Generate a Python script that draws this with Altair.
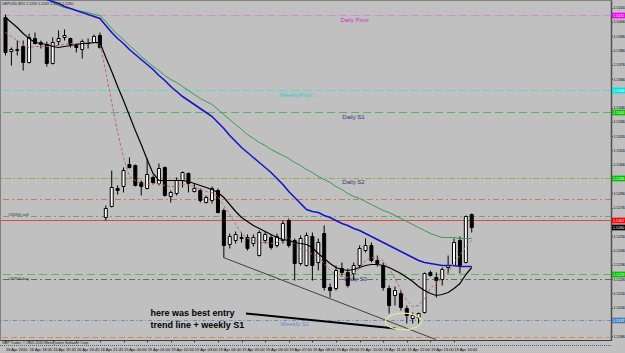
import altair as alt
import pandas as pd

# ---------------- data ----------------
opens = [1.54091,1.53853,1.53860,1.53888,1.53776,1.53944,1.53902,1.53902,1.53769,1.53923,
         1.53951,1.53944,1.53895,1.53867,1.53909,1.53916,1.53965,1.52691,1.52768,1.52894,
         1.52908,1.53062,1.53055,1.52936,1.52894,1.52971,1.52929,1.53041,1.52838,1.52859,
         1.52950,1.52999,1.52873,1.52880,1.52796,1.52810,1.52880,1.52740,1.52502,1.52530,
         1.52551,1.52551,1.52509,1.52425,1.52530,1.52551,1.52495,1.52530,1.52670,1.52530,
         1.52369,1.52355,1.52558,1.52376,1.52579,1.52201,1.52194,1.52334,1.52306,1.52299,
         1.52355,1.52460,1.52495,1.52390,1.52355,1.52194,1.52145,1.52159,1.52054,1.51984,
         1.51991,1.52026,1.52306,1.52271,1.52257,1.52341,1.52355,1.52530,1.52376,1.52712]
highs = [1.54112,1.53881,1.53930,1.53930,1.53979,1.53986,1.53930,1.53923,1.53951,1.54000,
         1.54007,1.53951,1.53909,1.53937,1.53944,1.53972,1.53986,1.52775,1.53020,1.52915,
         1.53041,1.53111,1.53062,1.52950,1.53104,1.52985,1.53069,1.53048,1.52880,1.52971,
         1.53013,1.53006,1.52929,1.52894,1.52845,1.52908,1.52894,1.52754,1.52579,1.52593,
         1.52586,1.52572,1.52572,1.52600,1.52593,1.52572,1.52579,1.52670,1.52684,1.52544,
         1.52565,1.52586,1.52586,1.52544,1.52635,1.52229,1.52355,1.52376,1.52334,1.52376,
         1.52495,1.52544,1.52516,1.52425,1.52376,1.52215,1.52208,1.52180,1.52075,1.52026,
         1.52026,1.52306,1.52320,1.52306,1.52341,1.52425,1.52544,1.52558,1.52705,1.52719]
lows = [1.53825,1.53755,1.53825,1.53720,1.53769,1.53902,1.53874,1.53748,1.53762,1.53895,
        1.53930,1.53881,1.53846,1.53804,1.53874,1.53909,1.53874,1.52670,1.52761,1.52852,
        1.52866,1.53034,1.52908,1.52845,1.52887,1.52922,1.52915,1.52838,1.52796,1.52845,
        1.52901,1.52866,1.52866,1.52796,1.52789,1.52789,1.52719,1.52411,1.52474,1.52509,
        1.52516,1.52460,1.52488,1.52418,1.52509,1.52467,1.52481,1.52509,1.52481,1.52250,
        1.52355,1.52348,1.52250,1.52320,1.52180,1.52131,1.52180,1.52285,1.52201,1.52250,
        1.52341,1.52446,1.52376,1.52348,1.52180,1.52019,1.52075,1.52040,1.51949,1.51949,
        1.51949,1.52019,1.52278,1.52131,1.52215,1.52299,1.52348,1.52299,1.52369,1.52586]
closes = [1.53846,1.53867,1.53867,1.53776,1.53951,1.53909,1.53916,1.53769,1.53916,1.53944,
          1.53965,1.53902,1.53881,1.53923,1.53916,1.53958,1.53881,1.52754,1.52901,1.52880,
          1.53020,1.53041,1.52915,1.52908,1.52992,1.52936,1.53034,1.52845,1.52866,1.52950,
          1.53006,1.52929,1.52894,1.52810,1.52831,1.52894,1.52726,1.52495,1.52558,1.52572,
          1.52544,1.52474,1.52551,1.52586,1.52572,1.52481,1.52558,1.52649,1.52495,1.52369,
          1.52544,1.52565,1.52355,1.52516,1.52201,1.52180,1.52320,1.52306,1.52215,1.52355,
          1.52474,1.52495,1.52390,1.52369,1.52201,1.52075,1.52180,1.52061,1.52005,1.52005,
          1.52019,1.52299,1.52285,1.52250,1.52327,1.52355,1.52516,1.52355,1.52698,1.52621]

ma_black = [1.54091,1.54056,1.54021,1.53979,1.53944,1.53916,1.53909,1.53902,1.53888,1.53881,
            1.53888,1.53895,1.53902,1.53909,1.53909,1.53916,1.53916,1.53811,1.53713,1.53608,
            1.53510,1.53405,1.53300,1.53202,1.53097,1.52999,1.52950,1.52950,1.52950,1.52950,
            1.52950,1.52943,1.52929,1.52915,1.52901,1.52887,1.52866,1.52831,1.52782,1.52733,
            1.52691,1.52663,1.52635,1.52614,1.52593,1.52572,1.52551,1.52537,1.52530,1.52516,
            1.52509,1.52502,1.52481,1.52439,1.52404,1.52369,1.52341,1.52327,1.52320,1.52327,
            1.52341,1.52355,1.52362,1.52362,1.52355,1.52341,1.52320,1.52299,1.52271,1.52243,
            1.52208,1.52180,1.52159,1.52145,1.52152,1.52166,1.52194,1.52229,1.52292,1.52341]
ma_dash = [1.53986,1.53958,1.53930,1.53902,1.53881,1.53888,1.53888,1.53888,1.53895,1.53895,
           1.53902,1.53909,1.53909,1.53909,1.53916,1.53916,1.53902,1.53713,1.53496,1.53286,
           1.53111,1.52978,1.52950,1.52929,1.52922,1.52929,1.52929,1.52915,1.52908,1.52908,
           1.52922,1.52922,1.52908,1.52887,1.52873,1.52866,1.52838,1.52775,1.52712,1.52642,
           1.52579,1.52544,1.52530,1.52516,1.52516,1.52509,1.52516,1.52544,1.52551,1.52509,
           1.52474,1.52460,1.52432,1.52418,1.52369,1.52320,1.52285,1.52278,1.52271,1.52292,
           1.52334,1.52390,1.52411,1.52411,1.52390,1.52334,1.52264,1.52180,1.52110,1.52068,
           1.52075,1.52124,1.52194,1.52229,1.52264,1.52306,1.52376,1.52425,1.52488,1.52530]
slow_start = 6
ma_blue = [1.54238,1.54217,1.54203,1.54189,1.54168,1.54154,1.54140,1.54126,1.54112,1.54098,
           1.54084,1.54035,1.53986,1.53944,1.53909,1.53867,1.53832,1.53797,1.53762,1.53727,
           1.53685,1.53650,1.53608,1.53573,1.53538,1.53510,1.53482,1.53454,1.53426,1.53398,
           1.53356,1.53314,1.53265,1.53223,1.53181,1.53146,1.53111,1.53076,1.53041,1.53006,
           1.52964,1.52922,1.52873,1.52831,1.52789,1.52747,1.52733,1.52726,1.52705,1.52691,
           1.52670,1.52649,1.52635,1.52614,1.52600,1.52579,1.52558,1.52537,1.52516,1.52495,
           1.52474,1.52453,1.52432,1.52411,1.52390,1.52376,1.52369,1.52362,1.52355,1.52355,
           1.52355,1.52348,1.52348,1.52348]
ma_green = [1.54252,1.54224,1.54196,1.54175,1.54161,1.54154,1.54140,1.54133,1.54126,1.54112,
            1.54105,1.54063,1.54014,1.53972,1.53937,1.53895,1.53860,1.53818,1.53783,1.53748,
            1.53720,1.53685,1.53657,1.53636,1.53608,1.53580,1.53552,1.53524,1.53503,1.53482,
            1.53447,1.53412,1.53377,1.53342,1.53307,1.53272,1.53244,1.53216,1.53195,1.53167,
            1.53146,1.53125,1.53104,1.53076,1.53055,1.53027,1.53006,1.52978,1.52957,1.52936,
            1.52908,1.52887,1.52859,1.52838,1.52824,1.52803,1.52782,1.52761,1.52740,1.52726,
            1.52705,1.52684,1.52663,1.52642,1.52621,1.52600,1.52579,1.52565,1.52551,1.52551,
            1.52551,1.52544,1.52544,1.52544]

time_labels = ["16 Apr 2010", "16 Apr 18:45", "16 Apr 19:45", "16 Apr 20:45", "16 Apr 21:45",
               "19 Apr 00:00", "19 Apr 01:00", "19 Apr 02:00", "19 Apr 03:00", "19 Apr 04:00",
               "19 Apr 05:00", "19 Apr 06:00", "19 Apr 07:00", "19 Apr 08:00", "19 Apr 09:00",
               "19 Apr 10:00", "19 Apr 11:00", "19 Apr 12:00", "19 Apr 13:00", "19 Apr 14:00"]
tick_prices = [1.5416, 1.5406, 1.5396, 1.5386, 1.5376, 1.5366, 1.5346, 1.5336, 1.5326,
               1.5316, 1.5306, 1.5286, 1.5276, 1.5256, 1.5246, 1.5236, 1.5226,
               1.5216, 1.5206, 1.5186]

level_prices = [1.54105, 1.53580, 1.53426, 1.52964, 1.52817, 1.52698, 1.52670, 1.52292, 1.52257, 1.51970, 1.51851]
level_colors = ["#cc8fcc", "#5fd3d3", "#5fae6a", "#a4a444", "#d0765c", "#6aa86a", "#e04848",
                "#5cb85c", "#6a6a6a", "#6f8fc0", "#d08a60"]
level_dashes = [[8, 4], [8, 4], [8, 4], [6, 2, 2, 2], [6, 3, 2, 3], [6, 3, 2, 3], [1, 0],
                [8, 4], [6, 3, 2, 3], [4, 2, 1, 2], [6, 3]]

lbl_text = ["Daily Pivot", "WeeklyPivot", "Daily S1", "Daily S2", "Daily S3", "Weekly S1", "#49200 sell", "#49916 buy"]
lbl_x = [56.75, 46.42, 57.08, 57.08, 57.42, 46.58, 0.42, 0.42]
lbl_p = [1.54077, 1.53552, 1.53398, 1.52943, 1.52264, 1.51949, 1.52712, 1.52264]
lbl_color = ["#cc33cc", "#33cccc", "#333388", "#333388", "#333388", "#6a8fc4", "#303030", "#303030"]
lbl_size = [6, 6, 6, 6, 6, 6, 4, 4]

box_prices = [1.54105, 1.53580, 1.53426, 1.52964, 1.52670, 1.52621, 1.52292, 1.51970]
box_text = ["1.5411", "1.5358", "1.5343", "1.5296", "1.5267", "1.5260", "1.5229", "1.5197"]
box_colors = ["#ff00ff", "#00e0e0", "#00c000", "#00c000", "#ff0000", "#000000", "#00c000", "#4682b4"]

note_lines = ["here was best entry", "trend line + weekly S1"]
note_x = [24.58, 24.58]
note_p = [1.52026, 1.51942]

trend_x = [36.92, 72.92]
trend_p = [1.52411, 1.51837]
arrow_x = [40.75, 66.08]
arrow_p = [1.52019, 1.51914]
ellipse_x = [67.42]
ellipse_p = [1.51963]

title_text = "GBPUSD,M15  1.5269 1.5269 1.5257 1.5260"
footer_text = "GBP Trader, \u00a9 2001-2010 MetaQuotes Software Corp."

# ---------------- build ----------------
FONT = "Liberation Sans"
xs = alt.Scale(domain=[-1 / 12, 101.75], nice=False, zero=False)
ys = alt.Scale(domain=[1.518335, 1.542135], nice=False, zero=False)

bars = pd.DataFrame({"i": list(range(len(opens))), "o": opens, "h": highs, "l": lows, "c": closes})
bars["top"] = bars[["o", "c"]].max(axis=1)
bars["bot"] = bars[["o", "c"]].min(axis=1)
bars["dir"] = ["up" if c >= o else "down" for o, c in zip(opens, closes)]

label_js = "[" + ",".join("'%s'" % t for t in time_labels) + "]"
XA = dict(values=list(range(0, 4 * len(time_labels), 4)), labelExpr=label_js + "[round(datum.value/4)]",
          labelAlign="left", labelBaseline="top", labelFontSize=4, labelFont=FONT, tickSize=2,
          labelPadding=5, domainColor="#404040", tickColor="#404040", labelColor="#000000",
          grid=False, title=None, labelOverlap=False, labelFlush=False)
YA = dict(orient="right", values=tick_prices, format=".4f", labelFontSize=3.7, labelFont=FONT,
          tickSize=1.5, labelPadding=0.5, domainColor="#505050", domainWidth=1.5, tickColor="#505050",
          labelColor="#000000", grid=False, title=None, labelOverlap=False, labelBaseline="middle",
          labelFlush=False)


def X(field):
    return alt.X(field, scale=xs, axis=alt.Axis(**XA))


def Y(field):
    return alt.Y(field, scale=ys, axis=alt.Axis(**YA))


layers = []

for p, col, dash in zip(level_prices, level_colors, level_dashes):
    layers.append(alt.Chart(pd.DataFrame({"p": [p]})).mark_rule(color=col, strokeDash=dash, strokeWidth=1).encode(
        y=Y("p:Q")))

lbl_df = pd.DataFrame({"t": lbl_text, "x": lbl_x, "p": lbl_p, "col": lbl_color, "s": lbl_size})
layers.append(alt.Chart(lbl_df).mark_text(align="left", baseline="middle", font=FONT).encode(
    x=X("x:Q"), y=Y("p:Q"), text="t:N",
    color=alt.Color("col:N", scale=None), size=alt.Size("s:Q", scale=None)))

layers.append(alt.Chart(bars).mark_rule(color="black", strokeWidth=1).encode(
    x=X("i:Q"), y=Y("l:Q"), y2="h:Q"))

layers.append(alt.Chart(bars).mark_bar(width=3, stroke="black", strokeWidth=1).encode(
    x=X("i:Q"), y=Y("bot:Q"), y2="top:Q",
    color=alt.Color("dir:N", scale=alt.Scale(domain=["up", "down"], range=["#ffffff", "#000000"]), legend=None)))

fast = pd.DataFrame({"i": list(range(len(ma_black))), "b": ma_black, "d": ma_dash})
slow = pd.DataFrame({"i": list(range(slow_start, slow_start + len(ma_blue))), "bl": ma_blue, "g": ma_green})

layers.append(alt.Chart(slow).mark_line(color="#3a9a5a", strokeWidth=1, clip=True).encode(
    x=X("i:Q"), y=Y("g:Q")))
layers.append(alt.Chart(slow).mark_line(color="#1515c8", strokeWidth=1.6, clip=True).encode(
    x=X("i:Q"), y=Y("bl:Q")))
layers.append(alt.Chart(fast).mark_line(color="#b86a6a", strokeWidth=1, strokeDash=[3, 2], clip=True).encode(
    x=X("i:Q"), y=Y("d:Q")))
layers.append(alt.Chart(fast).mark_line(color="#000000", strokeWidth=1.2, clip=True).encode(
    x=X("i:Q"), y=Y("b:Q")))

layers.append(alt.Chart(pd.DataFrame({"x": trend_x, "p": trend_p})).mark_line(color="#404040", strokeWidth=1).encode(
    x=X("x:Q"), y=Y("p:Q")))
layers.append(alt.Chart(pd.DataFrame({"x": arrow_x, "p": arrow_p})).mark_line(color="#000000", strokeWidth=2).encode(
    x=X("x:Q"), y=Y("p:Q")))
layers.append(alt.Chart(pd.DataFrame({"x": ellipse_x, "p": ellipse_p})).mark_point(
    shape="M-1,0A1,0.46,0,1,1,1,0A1,0.46,0,1,1,-1,0Z", size=1300, filled=False,
    stroke="#e4e49a", strokeWidth=1.2, opacity=1).encode(
    x=X("x:Q"), y=Y("p:Q")))

layers.append(alt.Chart(pd.DataFrame({"t": note_lines, "x": note_x, "p": note_p})).mark_text(
    align="left", baseline="middle", font=FONT, fontSize=9, fontWeight="bold", color="#000000").encode(
    x=X("x:Q"), y=Y("p:Q"), text="t:N"))

box_df = pd.DataFrame({"p": box_prices, "t": box_text, "col": box_colors})
box_df["p1"] = box_df["p"] + 0.0002
box_df["p2"] = box_df["p"] - 0.0002
layers.append(alt.Chart(box_df).mark_rect().encode(
    x=alt.value(612), x2=alt.value(625), y=Y("p1:Q"), y2="p2:Q",
    color=alt.Color("col:N", scale=None)))
layers.append(alt.Chart(box_df).mark_text(align="left", baseline="middle", font=FONT, fontSize=3.7, color="#ffffff").encode(
    x=alt.value(613), y=Y("p:Q"), text="t:N"))

layers.append(alt.Chart(pd.DataFrame({"t": [title_text]})).mark_text(
    align="left", baseline="middle", font=FONT, fontSize=3.6, color="#202020").encode(
    x=alt.value(2), y=alt.value(3.5), text="t:N"))
layers.append(alt.Chart(pd.DataFrame({"t": [footer_text]})).mark_text(
    align="left", baseline="middle", font=FONT, fontSize=3.6, color="#202020").encode(
    x=alt.value(2), y=alt.value(342.5), text="t:N"))
layers.append(alt.Chart(pd.DataFrame({"t": [0]})).mark_rule(color="#606060", strokeDash=[1, 1], strokeWidth=1).encode(
    x=alt.value(0), x2=alt.value(611), y=alt.value(345.5)))

chart = alt.layer(*layers).properties(
    width=611, height=340,
    padding={"left": 0, "top": 0, "right": 14, "bottom": 13},
    autosize=alt.AutoSizeParams(type="none"),
    background="#c0c0c0",
).configure_view(stroke="#808080", strokeWidth=1)

chart.save("out.html", embed_options={"renderer": "svg", "actions": False})
